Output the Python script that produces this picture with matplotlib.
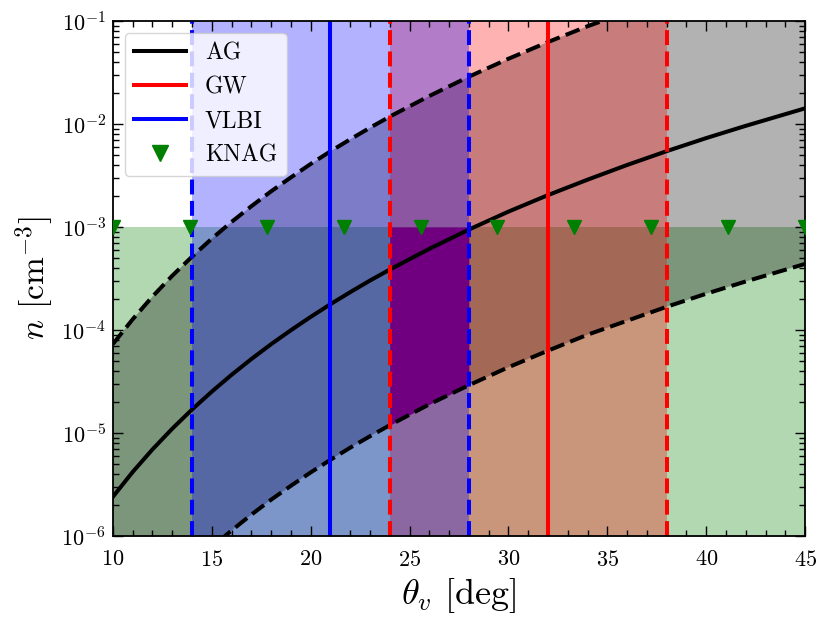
import matplotlib
matplotlib.use("Agg")
import matplotlib.pyplot as plt
from matplotlib.ticker import MultipleLocator, LogLocator, NullFormatter

plt.rcParams["font.family"] = "serif"
plt.rcParams["font.serif"] = ["cmr10"]
plt.rcParams["mathtext.fontset"] = "cm"
plt.rcParams["axes.formatter.use_mathtext"] = True
plt.rcParams["xtick.major.pad"] = 10
plt.rcParams["ytick.major.pad"] = 5
plt.rcParams["xtick.direction"] = "in"
plt.rcParams["ytick.direction"] = "in"

# AG constraint: central curve and dashed bounds
theta = [10, 11, 12, 13, 14, 15, 16, 17, 18, 19, 20, 21, 22, 23, 24,
         26, 28, 30, 32, 34, 36, 38, 40, 42, 45]
n_ag = [2.40e-6, 4.18e-6, 6.92e-6, 1.10e-5, 1.69e-5, 2.52e-5, 3.67e-5,
        5.22e-5, 7.28e-5, 9.95e-5, 1.34e-4, 1.78e-4, 2.33e-4, 3.02e-4,
        3.86e-4, 6.14e-4, 9.44e-4, 1.41e-3, 2.04e-3, 2.88e-3, 4.0e-3,
        5.45e-3, 7.3e-3, 9.6e-3, 1.42e-2]
n_ag_hi = [7.3e-5, 1.27e-4, 2.11e-4, 3.36e-4, 5.15e-4, 7.7e-4, 1.12e-3,
           1.59e-3, 2.22e-3, 3.03e-3, 4.09e-3, 5.43e-3, 7.1e-3, 9.2e-3,
           1.18e-2, 1.87e-2, 2.88e-2, 4.3e-2, 6.25e-2, 8.9e-2, 1.22e-1,
           1.66e-1, 2.23e-1, 2.93e-1, 4.33e-1]
n_ag_lo = [7.4e-8, 1.29e-7, 2.14e-7, 3.4e-7, 5.2e-7, 7.8e-7, 1.13e-6,
           1.61e-6, 2.25e-6, 3.07e-6, 4.14e-6, 5.49e-6, 7.2e-6, 9.3e-6,
           1.19e-5, 1.9e-5, 2.91e-5, 4.35e-5, 6.3e-5, 9.0e-5, 1.23e-4,
           1.68e-4, 2.25e-4, 2.96e-4, 4.38e-4]

# GW and VLBI viewing angle constraints
gw_mid, gw_lo, gw_hi = 32, 24, 38
vlbi_mid, vlbi_lo, vlbi_hi = 21, 14, 28

# KNAG upper limit on density
knag_n = 1e-3
knag_theta = [10, 13.89, 17.78, 21.67, 25.56, 29.44, 33.33, 37.22, 41.11, 45]

# overlap of all constraints
ov_theta = [24, 26, 28]
ov_lo = [1.19e-5, 1.9e-5, 2.91e-5]

fig, ax = plt.subplots(figsize=(8.3, 6.31), dpi=100)
fig.subplots_adjust(left=0.136, right=0.970, bottom=0.1506, top=0.9667)

ax.fill_between([10, 45], [1e-7, 1e-7], [knag_n, knag_n], color="green", alpha=0.3, lw=0)
ax.fill_between(theta, n_ag_lo, n_ag_hi, color="black", alpha=0.3, lw=0)
ax.axvspan(gw_lo, gw_hi, color="red", alpha=0.3, lw=0)
ax.axvspan(vlbi_lo, vlbi_hi, color="blue", alpha=0.3, lw=0)
ax.fill_between(ov_theta, ov_lo, [knag_n] * len(ov_theta), color="#700080", lw=0)

lw = 2.9
ax.plot(theta, n_ag, c="black", lw=lw, label="AG")
ax.plot(theta, n_ag_hi, c="black", lw=lw, ls="--")
ax.plot(theta, n_ag_lo, c="black", lw=lw, ls="--")

ax.axvline(gw_mid, c="red", lw=lw, label="GW")
ax.axvline(gw_lo, c="red", lw=lw, ls="--")
ax.axvline(gw_hi, c="red", lw=lw, ls="--")

ax.axvline(vlbi_mid, c="blue", lw=lw, label="VLBI")
ax.axvline(vlbi_lo, c="blue", lw=lw, ls="--")
ax.axvline(vlbi_hi, c="blue", lw=lw, ls="--")

ax.plot(knag_theta, [knag_n] * len(knag_theta), "v", c="green", ms=10,
        ls="none", label="KNAG", zorder=5)

ax.set_yscale("log")
ax.set_xlim(10, 45)
ax.set_ylim(1e-6, 1e-1)

ax.xaxis.set_major_locator(MultipleLocator(5))
ax.xaxis.set_minor_locator(MultipleLocator(1))
ax.yaxis.set_minor_locator(LogLocator(base=10, subs=range(2, 10), numticks=20))
ax.yaxis.set_minor_formatter(NullFormatter())
ax.tick_params(which="both", top=True, right=True, labelsize=16)
ax.tick_params(which="major", length=7, width=1)
ax.tick_params(which="minor", length=4, width=1)
for s in ax.spines.values():
    s.set_linewidth(1.3)

ax.set_xlabel(r"$\theta_v$ [deg]", fontsize=26, labelpad=4.5)
ax.set_ylabel(r"$n$ [cm$^{-3}$]", fontsize=24, labelpad=4)

ax.legend(loc="upper left", fontsize=17, handlelength=2.2, markerscale=1.2)

fig.savefig("out.png", dpi=100)
